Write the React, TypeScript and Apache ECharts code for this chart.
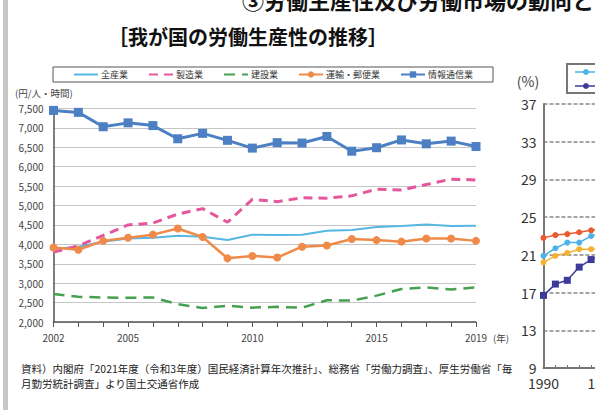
import React, { useEffect, useRef } from 'react';
import * as echarts from 'echarts';

const FONT = '"Noto Sans CJK JP", "Noto Sans", sans-serif';

// Left chart: labour productivity (円/人・時間)
const years = ['2002','2003','2004','2005','2006','2007','2008','2009','2010','2011','2012','2013','2014','2015','2016','2017','2018','2019'];
const labeledYears = ['2002', '2005', '2010', '2015', '2019'];
const allIndustry = [3880, 3940, 4070, 4150, 4170, 4220, 4195, 4110, 4250, 4240, 4250, 4350, 4370, 4450, 4470, 4510, 4470, 4480];
const manufacturing = [3800, 3960, 4230, 4500, 4550, 4780, 4920, 4570, 5160, 5100, 5200, 5190, 5250, 5420, 5400, 5540, 5680, 5660];
const construction = [2720, 2650, 2630, 2625, 2630, 2460, 2360, 2420, 2370, 2390, 2370, 2560, 2550, 2680, 2850, 2890, 2840, 2890];
const transport = [3920, 3860, 4090, 4170, 4250, 4410, 4190, 3640, 3700, 3660, 3940, 3970, 4140, 4110, 4070, 4150, 4150, 4090];
const infoComm = [7450, 7400, 7030, 7130, 7060, 6720, 6860, 6680, 6480, 6620, 6610, 6780, 6400, 6490, 6690, 6590, 6660, 6520];
const seriesNames = ['全産業', '製造業', '建設業', '運輸・郵便業', '情報通信業'];
const noMarkerNames = ['全産業', '製造業', '建設業'];

// Right chart (partially visible, %)
const rightYears = ['1990','1991','1992','1993','1994','1995','1996','1997','1998','1999','2000'];
const rightRed = [22.8, 23.1, 23.2, 23.4, 23.6, 23.8];
const rightLightBlue = [20.9, 21.7, 22.3, 22.3, 23.0, 23.3];
const rightGold = [20.2, 20.9, 21.2, 21.6, 21.6, 21.7];
const rightNavy = [16.7, 17.9, 18.3, 19.7, 20.5, 21.0];

const topTitle = '③労働生産性及び労働市場の動向と';
const mainTitle = '［我が国の労働生産性の推移］';
const sourceNote = '資料）内閣府「2021年度（令和3年度）国民経済計算年次推計」、総務省「労働力調査」、厚生労働省「毎\n月勤労統計調査」より国土交通省作成';

export default function App() {
  const ref = useRef<HTMLDivElement>(null);
  useEffect(() => {
    const chart = echarts.init(ref.current as HTMLDivElement, null, { renderer: 'svg' });
    const option: any = {
      animation: false,
      backgroundColor: '#ffffff',
      textStyle: { fontFamily: FONT },
      grid: [
        { left: 53.5, width: 422.5, top: 108.5, height: 213.5, containLabel: false, outerBoundsMode: 'none' },
        { left: 543.5, width: 119, top: 104, height: 264, containLabel: false, outerBoundsMode: 'none' },
      ],
      legend: {
        left: 53,
        top: 67,
        padding: [3, 20, 3, 20],
        borderColor: '#555',
        borderWidth: 1,
        itemWidth: 24,
        itemHeight: 8,
        itemGap: 20,
        selectedMode: false,
        data: seriesNames.map((n) =>
          noMarkerNames.includes(n) ? { name: n, itemStyle: { opacity: 0 } } : { name: n }
        ),
        textStyle: { fontSize: 9, color: '#333', fontFamily: FONT, padding: [0, 0, 0, -2] },
      },
      xAxis: [
        {
          type: 'category',
          gridIndex: 0,
          data: years,
          boundaryGap: false,
          name: '(年)',
          nameLocation: 'end',
          nameGap: 12,
          nameTextStyle: { fontSize: 9.5, color: '#444', verticalAlign: 'top', padding: [11, 0, 0, 0], fontFamily: FONT },
          axisLine: { lineStyle: { color: '#555', width: 1.5 } },
          axisTick: { show: true, interval: 0, length: 5, lineStyle: { color: '#555', width: 1 } },
          axisLabel: {
            interval: (_i: number, v: string) => labeledYears.includes(v),
            fontSize: 10,
            color: '#444',
            margin: 10,
            fontFamily: FONT,
          },
          splitLine: { show: false },
        },
        {
          type: 'category',
          gridIndex: 1,
          data: rightYears,
          boundaryGap: false,
          axisLine: { lineStyle: { color: '#777', width: 2 } },
          axisTick: { show: true, inside: true, interval: 0, length: 3, lineStyle: { color: '#777' } },
          axisLabel: {
            interval: (i: number) => i % 5 === 0,
            fontSize: 14,
            color: '#333',
            margin: 8,
            fontFamily: FONT,
          },
          splitLine: { show: false },
        },
      ],
      yAxis: [
        {
          type: 'value',
          gridIndex: 0,
          min: 2000,
          max: 7500,
          interval: 500,
          axisLine: { show: true, lineStyle: { color: '#555', width: 1.5 } },
          axisTick: { show: false },
          axisLabel: {
            formatter: (v: number) => v.toLocaleString('en-US'),
            fontSize: 10,
            color: '#444',
            margin: 10,
            fontFamily: FONT,
          },
          splitLine: { show: true, lineStyle: { color: '#8c8c8c', type: [1, 1], width: 1 } },
        },
        {
          type: 'value',
          gridIndex: 1,
          min: 9,
          max: 37,
          interval: 4,
          axisLine: { show: true, lineStyle: { color: '#777', width: 2 } },
          axisTick: { show: false },
          axisLabel: { fontSize: 14, color: '#333', margin: 7, fontFamily: FONT },
          splitLine: { show: true, lineStyle: { color: '#888', type: [4, 2], width: 1.5 } },
        },
      ],
      series: [
        {
          name: '全産業', type: 'line', xAxisIndex: 0, yAxisIndex: 0, data: allIndustry,
          symbol: 'none', lineStyle: { color: '#55B7E2', width: 2 }, itemStyle: { color: '#55B7E2' },
        },
        {
          name: '製造業', type: 'line', xAxisIndex: 0, yAxisIndex: 0, data: manufacturing,
          symbol: 'none', lineStyle: { color: '#E5579C', width: 3, type: [9, 6] }, itemStyle: { color: '#E5579C' },
        },
        {
          name: '建設業', type: 'line', xAxisIndex: 0, yAxisIndex: 0, data: construction,
          symbol: 'none', lineStyle: { color: '#45A04F', width: 2.5, type: [11, 7] }, itemStyle: { color: '#45A04F' },
        },
        {
          name: '運輸・郵便業', type: 'line', xAxisIndex: 0, yAxisIndex: 0, data: transport,
          symbol: 'circle', symbolSize: 8, lineStyle: { color: '#EF8A48', width: 2.5 }, itemStyle: { color: '#EF8A48' },
        },
        {
          name: '情報通信業', type: 'line', xAxisIndex: 0, yAxisIndex: 0, data: infoComm,
          symbol: 'rect', symbolSize: 9, lineStyle: { color: '#4C80C3', width: 3 }, itemStyle: { color: '#4C80C3' },
        },
        {
          name: 'R1', type: 'line', xAxisIndex: 1, yAxisIndex: 1, data: rightRed,
          symbol: 'circle', symbolSize: 6, lineStyle: { color: '#EA5A2E', width: 1.5 }, itemStyle: { color: '#EA5A2E' },
        },
        {
          name: 'R2', type: 'line', xAxisIndex: 1, yAxisIndex: 1, data: rightLightBlue,
          symbol: 'circle', symbolSize: 6, lineStyle: { color: '#4DB2E8', width: 1.5 }, itemStyle: { color: '#4DB2E8' },
        },
        {
          name: 'R3', type: 'line', xAxisIndex: 1, yAxisIndex: 1, data: rightGold,
          symbol: 'circle', symbolSize: 6, lineStyle: { color: '#F3B234', width: 1.5 }, itemStyle: { color: '#F3B234' },
        },
        {
          name: 'R4', type: 'line', xAxisIndex: 1, yAxisIndex: 1, data: rightNavy,
          symbol: 'rect', symbolSize: 7, lineStyle: { color: '#3C3B9C', width: 1.5 }, itemStyle: { color: '#3C3B9C' },
        },
      ],
      graphic: [
        { type: 'rect', shape: { x: 3, y: 0, width: 5, height: 410 }, style: { fill: '#c6c6c6' }, silent: true },
        {
          type: 'text', x: 242, y: -1,
          style: { text: topTitle, font: `bold 22px ${FONT}`, fill: '#111', textVerticalAlign: 'middle', textAlign: 'left' },
        },
        {
          type: 'text', x: 248, y: 36,
          style: { text: mainTitle, font: `bold 20px ${FONT}`, fill: '#111', textVerticalAlign: 'middle', textAlign: 'center' },
        },
        {
          type: 'text', x: 582, y: 36,
          style: { text: '［', font: `bold 20px ${FONT}`, fill: '#111', textVerticalAlign: 'middle', textAlign: 'left' },
        },
        {
          type: 'text', x: 15, y: 93,
          style: { text: '(円/人・時間)', font: `9.5px ${FONT}`, fill: '#444', textVerticalAlign: 'middle', textAlign: 'left' },
        },
        {
          type: 'text', x: 528, y: 81,
          style: { text: '(%)', font: `14px ${FONT}`, fill: '#444', textVerticalAlign: 'middle', textAlign: 'center' },
        },
        {
          type: 'text', x: 21, y: 361,
          style: { text: sourceNote, font: `10.5px ${FONT}`, fill: '#222', lineHeight: 15, textVerticalAlign: 'top', textAlign: 'left' },
        },
        { type: 'rect', shape: { x: 567, y: 64, width: 60, height: 29 }, style: { fill: 'none', stroke: '#777', lineWidth: 2 } },
        { type: 'line', shape: { x1: 575, y1: 72, x2: 597, y2: 72 }, style: { stroke: '#4DB2E8', lineWidth: 1.5 } },
        { type: 'circle', shape: { cx: 586, cy: 72, r: 3 }, style: { fill: '#4DB2E8' } },
        { type: 'line', shape: { x1: 575, y1: 86, x2: 597, y2: 86 }, style: { stroke: '#3C3B9C', lineWidth: 1.5 } },
        { type: 'circle', shape: { cx: 586, cy: 86, r: 3 }, style: { fill: '#3C3B9C' } },
      ],
    };
    chart.setOption(option);
    return () => chart.dispose();
  }, []);
  return (
    <div
      ref={ref}
      style={{ position: 'fixed', left: 0, top: 0, width: 595, height: 410, background: '#fff', overflow: 'hidden' }}
    />
  );
}
